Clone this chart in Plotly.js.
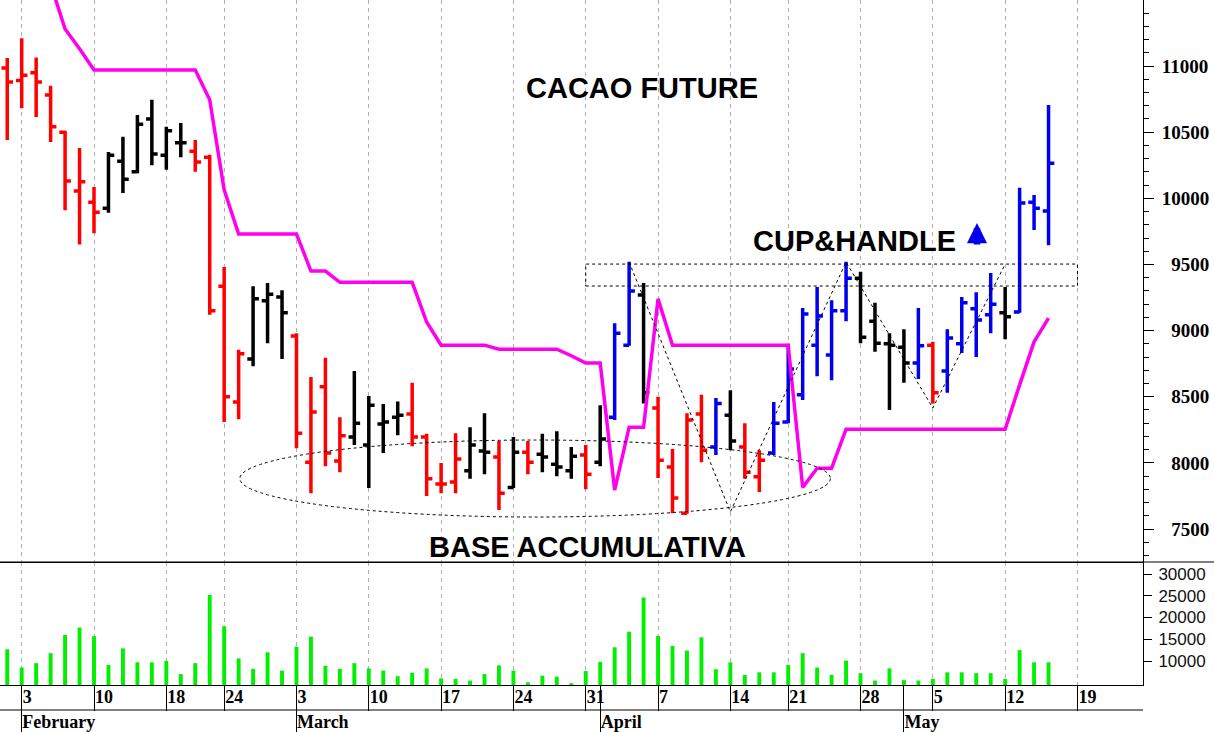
<!DOCTYPE html>
<html>
<head>
<meta charset="utf-8">
<script src="https://cdn.plot.ly/plotly-3.0.1.min.js"></script>
<style>html,body{margin:0;padding:0;background:#fff;}</style>
</head>
<body>
<div id="chart" style="width:1214px;height:732px"></div>
<script>
// ---- data ----
const dates = ['2025-01-31','2025-02-03','2025-02-04','2025-02-05','2025-02-06','2025-02-07','2025-02-10','2025-02-11','2025-02-12','2025-02-13','2025-02-14','2025-02-18','2025-02-19','2025-02-20','2025-02-21','2025-02-24','2025-02-25','2025-02-26','2025-02-27','2025-02-28','2025-03-03','2025-03-04','2025-03-05','2025-03-06','2025-03-07','2025-03-10','2025-03-11','2025-03-12','2025-03-13','2025-03-14','2025-03-17','2025-03-18','2025-03-19','2025-03-20','2025-03-21','2025-03-24','2025-03-25','2025-03-26','2025-03-27','2025-03-28','2025-03-31','2025-04-01','2025-04-02','2025-04-03','2025-04-04','2025-04-07','2025-04-08','2025-04-09','2025-04-10','2025-04-11','2025-04-14','2025-04-15','2025-04-16','2025-04-17','2025-04-21','2025-04-22','2025-04-23','2025-04-24','2025-04-25','2025-04-28','2025-04-29','2025-04-30','2025-05-01','2025-05-02','2025-05-05','2025-05-06','2025-05-07','2025-05-08','2025-05-09','2025-05-12','2025-05-13','2025-05-14','2025-05-15'];
const opens  = [10985,10890,10950,10780,10500,10055,9970,9925,10280,10200,10600,10325,10420,10355,10310,9335,8460,8785,9225,9255,8960,8005,8575,8015,8195,8135,8295,8345,8370,8195,7840,7855,7940,8090,8045,7815,8080,8065,7990,7940,8060,8005,8345,8890,9270,8415,7970,7620,8370,8120,8360,8120,7895,8075,8310,8515,8890,8815,9150,9395,9070,8900,8875,8755,8890,8695,8900,9165,9120,9135,9140,9970,9905];
const highs  = [11060,11210,11065,10850,10510,10380,10085,10350,10465,10630,10745,10540,10570,10440,10330,9480,8855,9335,9360,9305,8980,8650,8795,8345,8695,8505,8445,8465,8605,8220,8000,8225,8270,8375,8165,8195,8165,8220,8240,8120,8135,8435,9055,9520,9360,8500,8105,8375,8515,8490,8550,8300,8095,8460,8900,9170,9330,9230,9520,9445,9210,8980,9010,9170,8915,9010,9255,9290,9435,9330,10080,10025,10705];
const lows   = [10440,10680,10615,10425,9910,9650,9735,9890,10040,10190,10250,10215,10310,10200,9120,8310,8330,8730,8905,8785,8110,7770,7975,7930,8135,7810,8075,8210,8125,7750,7770,7770,7880,7915,7645,7810,7915,7930,7900,7880,7800,7975,8325,8885,8450,7885,7620,7615,8005,8060,8095,7880,7780,8060,8300,8475,8655,8625,9070,8905,8840,8400,8605,8635,8450,8530,8830,8800,8980,8935,9135,9760,9645];
const closes = [10880,10930,10880,10540,10130,10125,9895,10325,10145,10560,10335,10510,10420,10275,9150,8500,8825,9240,9275,9135,8225,8385,8075,8205,8300,8435,8310,8360,8195,7880,7840,8030,8135,8080,7770,8080,8005,8045,7970,8050,7915,8180,8980,9300,8530,8020,7735,8325,8095,8450,8165,7930,8020,8300,8710,9125,9110,9150,9395,8950,8905,8890,8755,8885,8530,8945,9210,9080,9200,9105,9965,9925,10265];
const barColors = ['r','r','r','r','r','r','r','k','k','k','k','k','k','r','r','r','r','k','k','k','r','r','r','r','k','k','k','k','r','r','r','r','k','k','r','k','r','k','k','k','r','k','b','b','k','r','r','r','r','b','k','r','r','b','b','b','b','b','b','k','k','k','k','b','r','b','b','b','b','k','b','b','b'];
const volumes = [12700,8500,9500,11800,16000,17700,15700,9100,12900,9700,9700,10000,7000,9500,25200,18000,10600,8200,12000,7800,13300,15600,8900,8200,9500,8300,7800,6500,7300,8300,6000,5900,5500,7000,9000,7800,5100,6600,6400,4900,7700,9800,13150,16750,24600,15750,13450,12400,15450,8100,9700,6800,7400,7400,9100,11800,8500,6800,10100,7200,5500,8300,5600,5500,5900,7400,7400,7200,7200,5900,12500,9700,9700];
const stopLine = [12300,12100,11900,11620,11280,11130,10970,10970,10970,10970,10970,10970,10970,10970,10745,10065,9730,9730,9730,9730,9730,9450,9450,9365,9365,9365,9365,9365,9365,9065,8890,8890,8890,8890,8860,8860,8860,8860,8860,8810,8755,8755,7795,8270,8270,9240,8890,8890,8890,8890,8890,8890,8890,8890,8890,7815,7960,7960,8255,8255,8255,8255,8255,8255,8255,8255,8255,8255,8255,8255,8590,8915,9095];
const cupDates = ['2025-04-03','2025-04-14','2025-04-25','2025-05-05','2025-05-12'];
const cupPrices = [9518,7630,9518,8415,9503];
const dayTicks = ['2025-02-03','2025-02-10','2025-02-18','2025-02-24','2025-03-03','2025-03-10','2025-03-17','2025-03-24','2025-03-31','2025-04-07','2025-04-14','2025-04-21','2025-04-28','2025-05-05','2025-05-12','2025-05-19'];
const dayLabels = ['3','10','18','24','3','10','17','24','31','7','14','21','28','5','12','19'];
const monthTicks = ['2025-02-03','2025-03-03','2025-04-01','2025-05-01'];
const monthLabels = ['February','March','April','May'];
const priceTicks = [7500,8000,8500,9000,9500,10000,10500,11000];
const volumeTicks = [10000,15000,20000,25000,30000];

// ---- styles ----
const palette = {r:'#ff0000', k:'#000000', b:'#0000ee'};
const serifBold = {family:'Liberation Serif, Times New Roman, serif', size:18, color:'#000', weight:'bold'};
const gridStyle = {showgrid:true, gridcolor:'#b0b0b0', griddash:'4px,4px', gridwidth:1};
const rb = [{bounds:['sat','mon']},{values:['2025-02-17','2025-04-18']}];
const xRange = ['2025-01-30 12:00','2025-05-23 12:45'];
const volTop = 0.17956;

function ohlcTrace(code){
  const idx = dates.map((d,i)=>i).filter(i=>barColors[i]===code);
  const ln = {color:palette[code], width:3.5};
  return {type:'ohlc', xaxis:'x2', yaxis:'y',
    x: idx.map(i=>dates[i]), open: idx.map(i=>opens[i]), high: idx.map(i=>highs[i]),
    low: idx.map(i=>lows[i]), close: idx.map(i=>closes[i]),
    increasing:{line:ln}, decreasing:{line:ln}, tickwidth:0.4, hoverinfo:'skip', showlegend:false};
}

const traces = [
  {type:'bar', x:dates, y:volumes, xaxis:'x', yaxis:'y2', marker:{color:'#00f000', line:{width:0}}, width:0.27*86400000, hoverinfo:'skip'},
  ohlcTrace('r'), ohlcTrace('k'), ohlcTrace('b'),
  {type:'scatter', mode:'lines', x:dates, y:stopLine, xaxis:'x2', yaxis:'y', line:{color:'#ff00ee', width:3.5}, hoverinfo:'skip'},
  {type:'scatter', mode:'lines', x:cupDates, y:cupPrices, xaxis:'x2', yaxis:'y', line:{color:'#000', width:1, dash:'dot'}, hoverinfo:'skip'},
  {type:'scatter', mode:'markers', x:[dates[0]], y:[null], xaxis:'x3', yaxis:'y2', hoverinfo:'skip'}
];

const priceText = priceTicks.map(v=>{let s=String(v); while(s.length<5) s='\u2007'+s; return s;});
const volumeText = volumeTicks.map(v=>String(v));

const layout = {
  width:1214, height:732,
  margin:{l:0, r:71, t:0, b:47, pad:0},
  paper_bgcolor:'#ffffff', plot_bgcolor:'#ffffff',
  showlegend:false, hovermode:false, dragmode:false,
  title:{text:'<b>CACAO FUTURE</b>', font:{family:'Liberation Sans, Arial, sans-serif', size:29, color:'#000'},
    xref:'container', yref:'container', x:642/1214, y:1-88/732, xanchor:'center', yanchor:'middle'},
  xaxis:Object.assign({type:'date', range:xRange, rangebreaks:rb, anchor:'y2', domain:[0,1],
    tickmode:'array', tickvals:dayTicks, ticktext:dayLabels, ticks:'outside', ticklen:25, tickwidth:1, tickcolor:'#000',
    ticklabelposition:'outside right', ticklabelstandoff:-5, tickfont:serifBold,
    showline:true, linecolor:'#000', linewidth:1, zeroline:false, rangeslider:{visible:false}, fixedrange:true}, gridStyle),
  xaxis2:Object.assign({type:'date', range:xRange, rangebreaks:rb, anchor:'y', domain:[0,1],
    tickmode:'array', tickvals:dayTicks, showticklabels:false, ticks:'',
    showline:true, linecolor:'#000', linewidth:1, zeroline:false, rangeslider:{visible:false}, fixedrange:true}, gridStyle),
  xaxis3:{type:'date', range:xRange, rangebreaks:rb, overlaying:'x', anchor:'y2', side:'bottom',
    tickmode:'array', tickvals:monthTicks, ticktext:monthLabels, ticks:'outside', ticklen:47, tickwidth:1, tickcolor:'#000',
    ticklabelposition:'outside right', ticklabelstandoff:20, tickfont:serifBold,
    showgrid:false, showline:false, zeroline:false, fixedrange:true},
  yaxis:{domain:[volTop,1], range:[7251,11499], side:'right', anchor:'x2',
    tickmode:'array', tickvals:priceTicks, ticktext:priceText, ticks:'outside', ticklen:10, tickwidth:1, tickcolor:'#000',
    ticklabelstandoff:4,
    tickfont:{family:'Liberation Serif, Times New Roman, serif', size:19, color:'#000', weight:'bold'},
    minor:{tickmode:'linear', tick0:0, dtick:100, ticks:'outside', ticklen:5, tickwidth:1, tickcolor:'#000', showgrid:false},
    showline:true, linecolor:'#000', linewidth:1, showgrid:false, zeroline:false, fixedrange:true},
  yaxis2:{domain:[0,volTop], range:[4482,32759], side:'right', anchor:'x',
    tickmode:'array', tickvals:volumeTicks, ticktext:volumeText, ticks:'outside', ticklen:8, tickwidth:1, tickcolor:'#000',
    ticklabelstandoff:3,
    tickfont:{family:'Liberation Sans, Arial, sans-serif', size:17, color:'#111'},
    showline:true, linecolor:'#000', linewidth:1, showgrid:false, zeroline:false, fixedrange:true},
  shapes:[
    {type:'circle', xref:'x2', yref:'y', x0:'2025-02-25 02:00', x1:'2025-04-23 22:00', y0:7591, y1:8173,
      line:{color:'#000', width:1, dash:'3px,3px'}},
    {type:'rect', xref:'x2', yref:'y', x0:'2025-03-31', x1:'2025-05-19', y0:9337, y1:9503,
      line:{color:'#000', width:1, dash:'3px,3px'}},
    {type:'line', xref:'paper', yref:'paper', x0:0, x1:1, y0:-25/685, y1:-25/685, line:{color:'#000', width:1}},
    {type:'line', xref:'paper', yref:'paper', x0:0, x1:1214/1143, y0:volTop, y1:volTop, line:{color:'#000', width:1}}
  ],
  annotations:[
    {xref:'paper', yref:'paper', x:854/1143, y:1-241/685, text:'<b>CUP&HANDLE</b>', showarrow:false,
      xanchor:'center', yanchor:'middle', font:{family:'Liberation Sans, Arial, sans-serif', size:29, color:'#000'}},
    {xref:'paper', yref:'paper', x:587.5/1143, y:1-547/685, text:'<b>BASE ACCUMULATIVA</b>', showarrow:false,
      xanchor:'center', yanchor:'middle', font:{family:'Liberation Sans, Arial, sans-serif', size:29, color:'#000'}},
    {xref:'paper', yref:'paper', x:977/1143, y:1-223/685, text:'', showarrow:true, ax:0, ay:23,
      arrowhead:2, arrowsize:0.62, arrowwidth:6.5, arrowcolor:'#0000ee', standoff:0}
  ]
};

Plotly.newPlot('chart', traces, layout, {staticPlot:true, displayModeBar:false});
</script>
</body>
</html>
